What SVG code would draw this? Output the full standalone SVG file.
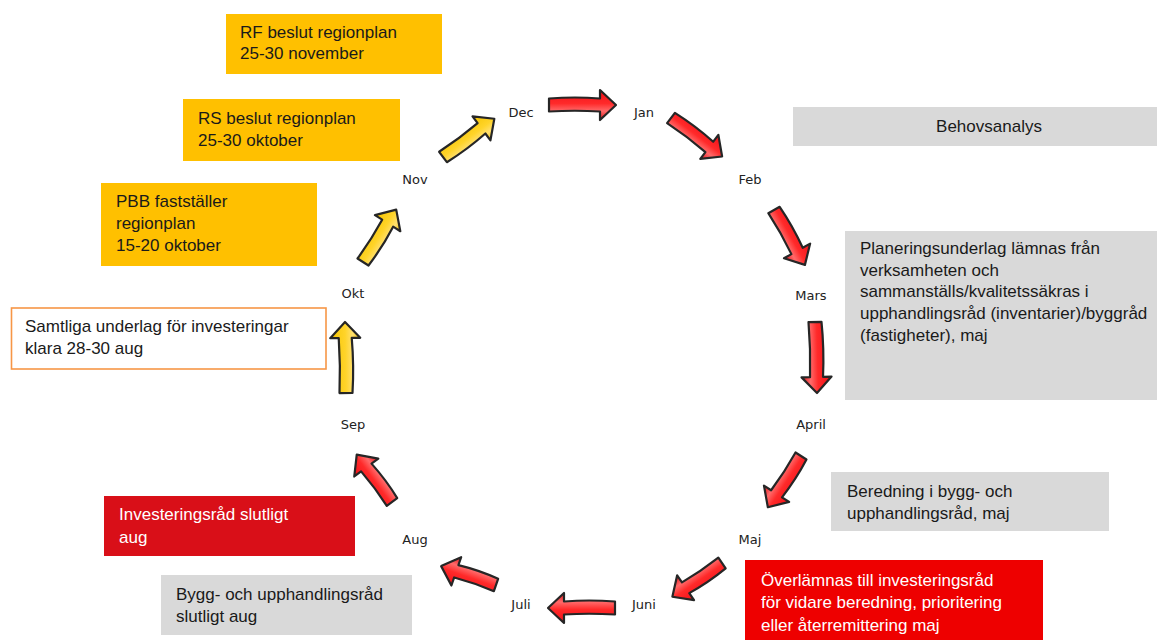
<svg xmlns="http://www.w3.org/2000/svg" width="1157" height="640" viewBox="0 0 1157 640">
<style>
.t{font-family:"Liberation Sans",Arial,sans-serif;font-size:17px;fill:#1a1a1a}
.w{fill:#ffffff}
.m{font-family:"DejaVu Sans","Liberation Sans",sans-serif;font-size:13px;fill:#222;text-anchor:middle}
.ar{stroke:#262626;stroke-width:2.2;stroke-linejoin:round}
.red{fill:url(#gr)}
.yel{fill:url(#gy)}
</style>
<defs>
<linearGradient id="gr" x1="0" y1="0" x2="0" y2="1">
<stop offset="0" stop-color="#f01018"/>
<stop offset="0.45" stop-color="#ff2a2a"/>
<stop offset="0.7" stop-color="#ff6a6a"/>
<stop offset="1" stop-color="#e01018"/>
</linearGradient>
<linearGradient id="gy" x1="0" y1="0" x2="0" y2="1">
<stop offset="0" stop-color="#f5c400"/>
<stop offset="0.5" stop-color="#ffd42a"/>
<stop offset="0.75" stop-color="#ffe070"/>
<stop offset="1" stop-color="#eebc00"/>
</linearGradient>
</defs>
<rect width="1157" height="640" fill="#ffffff"/>

<g id="connectors">
<path class="ar red" transform="translate(549,105) rotate(0)" d="M0,-6.5 Q26,-8.5 51,-6.5 L51,-15 L67,0 L51,15 L51,6.5 Q26,5 0,6.5 Z"/>
<path class="ar red" transform="translate(671,118) rotate(37)" d="M0,-6.5 Q24,-8.5 48,-6.5 L48,-15 L64,0 L48,15 L48,6.5 Q24,5 0,6.5 Z"/>
<path class="ar red" transform="translate(774,210) rotate(60.6)" d="M0,-6.5 Q23,-8.5 47,-6.5 L47,-15 L63,0 L47,15 L47,6.5 Q23,5 0,6.5 Z"/>
<path class="ar red" transform="translate(815,322) rotate(88.4)" d="M0,-6.5 Q27,-8.5 55,-6.5 L55,-15 L71,0 L55,15 L55,6.5 Q27,5 0,6.5 Z"/>
<path class="ar red" transform="translate(801,456) rotate(122.9)" d="M0,-6.5 Q22,-8.5 45,-6.5 L45,-15 L61,0 L45,15 L45,6.5 Q22,5 0,6.5 Z"/>
<path class="ar red" transform="translate(722,563) rotate(145.8)" d="M0,-6.5 Q22,-8.5 44,-6.5 L44,-15 L60,0 L44,15 L44,6.5 Q22,5 0,6.5 Z"/>
<path class="ar red" transform="translate(615,608) rotate(180)" d="M0,-6.5 Q26,-5 51,-6.5 L51,-15 L67,0 L51,15 L51,6.5 Q26,8.5 0,6.5 Z"/>
<path class="ar red" transform="translate(496,585) rotate(199)" d="M0,-6.5 Q21,-5 42,-6.5 L42,-15 L58,0 L42,15 L42,6.5 Q21,8.5 0,6.5 Z"/>
<path class="ar red" transform="translate(392,502) rotate(233.3)" d="M0,-6.5 Q21,-5 43,-6.5 L43,-15 L59,0 L43,15 L43,6.5 Q21,8.5 0,6.5 Z"/>
<path class="ar yel" transform="translate(346,393) rotate(269.2)" d="M0,-6.5 Q27,-5 55,-6.5 L55,-15 L71,0 L55,15 L55,6.5 Q27,8.5 0,6.5 Z"/>
<path class="ar yel" transform="translate(363,262) rotate(302.4)" d="M0,-6.5 Q23,-5 46,-6.5 L46,-15 L62,0 L46,15 L46,6.5 Q23,8.5 0,6.5 Z"/>
<path class="ar yel" transform="translate(443,157) rotate(323.3)" d="M0,-6.5 Q24,-5 48,-6.5 L48,-15 L64,0 L48,15 L48,6.5 Q24,8.5 0,6.5 Z"/>
</g>

<g id="months">
<text class="m" x="521" y="117">Dec</text>
<text class="m" x="644" y="117">Jan</text>
<text class="m" x="750" y="184">Feb</text>
<text class="m" x="811" y="300">Mars</text>
<text class="m" x="811" y="429">April</text>
<text class="m" x="750" y="544">Maj</text>
<text class="m" x="644" y="609">Juni</text>
<text class="m" x="521" y="609">Juli</text>
<text class="m" x="415" y="544">Aug</text>
<text class="m" x="353" y="429">Sep</text>
<text class="m" x="353" y="298">Okt</text>
<text class="m" x="415" y="184">Nov</text>
</g>

<g id="rf">
<rect x="226" y="14" width="216" height="60" fill="#ffc000"/>
<text class="t" x="240" y="38">RF beslut regionplan</text>
<text class="t" x="240" y="59">25-30 november</text>
</g>
<g id="rs">
<rect x="183" y="99" width="217" height="62" fill="#ffc000"/>
<text class="t" x="198" y="124">RS beslut regionplan</text>
<text class="t" x="198" y="146">25-30 oktober</text>
</g>
<g id="pbb">
<rect x="101" y="183" width="216" height="83" fill="#ffc000"/>
<text class="t" x="116" y="207">PBB fastställer</text>
<text class="t" x="116" y="229">regionplan</text>
<text class="t" x="116" y="251">15-20 oktober</text>
</g>
<g id="samtliga">
<rect x="11.5" y="308" width="314.5" height="61" fill="#ffffff" stroke="#f79646" stroke-width="1.6"/>
<text class="t" x="25" y="332">Samtliga underlag för investeringar</text>
<text class="t" x="25" y="354">klara 28-30 aug</text>
</g>
<g id="invslut">
<rect x="104" y="496" width="251" height="60" fill="#d90f18"/>
<text class="t w" x="119" y="520">Investeringsråd slutligt</text>
<text class="t w" x="119" y="543">aug</text>
</g>
<g id="byggslut">
<rect x="161" y="575" width="251" height="60" fill="#d9d9d9"/>
<text class="t" x="176" y="600">Bygg- och upphandlingsråd</text>
<text class="t" x="176" y="622">slutligt aug</text>
</g>
<g id="behov">
<rect x="793" y="107" width="364" height="39" fill="#d9d9d9"/>
<text class="t" x="989" y="132" text-anchor="middle">Behovsanalys</text>
</g>
<g id="planering">
<rect x="845" y="231" width="312" height="169" fill="#d9d9d9"/>
<text class="t" x="860" y="254">Planeringsunderlag lämnas från</text>
<text class="t" x="860" y="276">verksamheten och</text>
<text class="t" x="860" y="297">sammanställs/kvalitetssäkras i</text>
<text class="t" x="860" y="319">upphandlingsråd (inventarier)/byggråd</text>
<text class="t" x="860" y="341">(fastigheter), maj</text>
</g>
<g id="beredning">
<rect x="831" y="472" width="278" height="59" fill="#d9d9d9"/>
<text class="t" x="847" y="497">Beredning i bygg- och</text>
<text class="t" x="847" y="519">upphandlingsråd, maj</text>
</g>
<g id="overlamnas">
<rect x="745" y="560" width="298" height="80" fill="#ee0000"/>
<text class="t w" x="761" y="586">Överlämnas till investeringsråd</text>
<text class="t w" x="761" y="608">för vidare beredning, prioritering</text>
<text class="t w" x="761" y="631">eller återremittering maj</text>
</g>
</svg>
